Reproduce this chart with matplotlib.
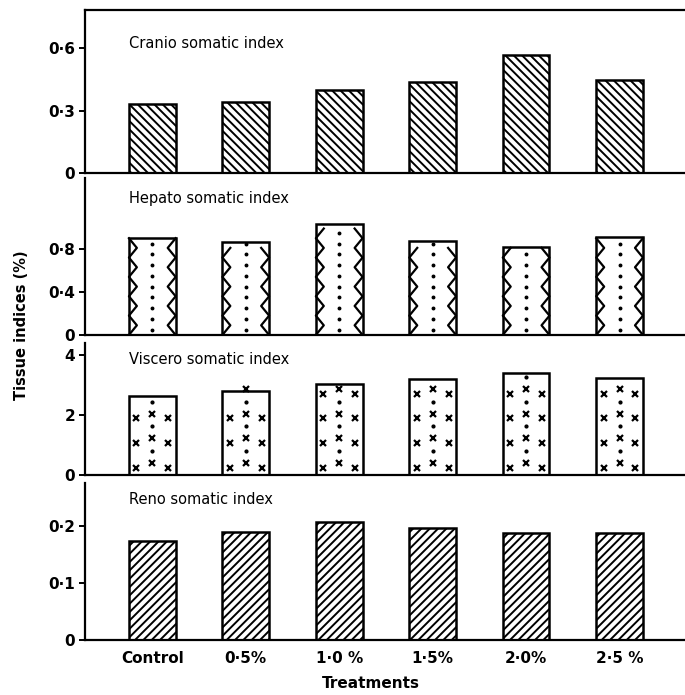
import numpy as np
import matplotlib
matplotlib.use('Agg')
import matplotlib.pyplot as plt

# Data
treatments = ['Control', '0·5%', '1·0 %', '1·5%', '2·0%', '2·5 %']
cranio = [0.33, 0.34, 0.40, 0.44, 0.57, 0.45]
hepato = [0.90, 0.865, 1.03, 0.875, 0.82, 0.915]
viscero = [2.62, 2.80, 3.03, 3.20, 3.40, 3.23]
reno = [0.174, 0.190, 0.207, 0.196, 0.188, 0.188]

titles = ['Cranio somatic index', 'Hepato somatic index',
          'Viscero somatic index', 'Reno somatic index']
yticks = [[0, 0.3, 0.6], [0, 0.4, 0.8], [0, 2, 4], [0, 0.1, 0.2]]
yticklabels = [['0', '0·3', '0·6'], ['0', '0·4', '0·8'], ['0', '2', '4'], ['0', '0·1', '0·2']]
ylims = [(0, 0.785), (0, 1.46), (0, 4.4), (0, 0.275)]

plt.rcParams['hatch.linewidth'] = 1.4
plt.rcParams['font.family'] = 'DejaVu Sans'

W, H = 685, 695
fig = plt.figure(figsize=(6.85, 6.95), dpi=100)

# panel extents in pixels (top, bottom)
panels = [(10, 173), (178, 335), (343, 475), (483, 640)]
title_y = [43, 198, 359, 499]
left_px = 85

x = np.arange(len(treatments))
bw = 0.5
xlim = (-0.72, 5.70)

axes = []
for i, (t, b) in enumerate(panels):
    ax = fig.add_axes([left_px / W, 1 - b / H, 1 - left_px / W, (b - t) / H])
    axes.append(ax)
    ax.set_xlim(*xlim)
    ax.set_ylim(*ylims[i])
    ax.spines['right'].set_visible(False)
    ax.spines['top'].set_visible(i == 0)
    for s in ['left', 'bottom', 'top']:
        ax.spines[s].set_linewidth(1.6)
    ax.set_yticks(yticks[i])
    ax.set_yticklabels(yticklabels[i], fontsize=11, fontweight='bold')
    ax.tick_params(axis='y', direction='out', length=4, width=1.4, pad=3)
    ax.set_xticks([])
    fig.text(129 / W, 1 - title_y[i] / H, titles[i], fontsize=10.5, va='center')

# Panel 1: backslash hatch
axes[0].bar(x, cranio, width=bw, color='white', edgecolor='black',
            linewidth=1.8, hatch='\\\\\\\\')

# Panel 2: wavy edges + dotted centre
ax = axes[1]
ax.bar(x, hepato, width=bw, color='white', edgecolor='black', linewidth=1.8)
period = 0.18
amp = 0.085
for xi, h in zip(x, hepato):
    n = int(np.ceil(h / (period / 2)))
    ys = np.linspace(0, n * period / 2, n + 1)
    ys = ys[ys <= h + 1e-9]
    off = np.where(np.arange(len(ys)) % 2 == 0, 0, amp)
    ax.plot(xi - bw / 2 + off, ys, color='black', lw=1.6)
    ax.plot(xi + bw / 2 - off, ys, color='black', lw=1.6)
    dots = np.arange(0.05, h, 0.1)
    ax.plot(np.full_like(dots, xi), dots, ls='none', marker='o', ms=1.8, color='black')

# Panel 3: x marks and dots
ax = axes[2]
ax.bar(x, viscero, width=bw, color='white', edgecolor='black', linewidth=1.8)
step = 0.82
for xi, h in zip(x, viscero):
    cx = np.arange(0.25, h, step) + 0.15
    ax.plot(np.full_like(cx, xi), cx, ls='none', marker='x', ms=4.5, mew=1.6, color='black')
    cd = cx + step / 2
    cd = cd[cd < h - 0.05]
    ax.plot(np.full_like(cd, xi), cd, ls='none', marker='o', ms=2, color='black')
    sx = np.arange(0.25, h - 0.2, step)
    ax.plot(np.full_like(sx, xi - 0.17), sx, ls='none', marker='x', ms=4.5, mew=1.6, color='black')
    ax.plot(np.full_like(sx, xi + 0.17), sx, ls='none', marker='x', ms=4.5, mew=1.6, color='black')

# Panel 4: forward hatch
axes[3].bar(x, reno, width=bw, color='white', edgecolor='black',
            linewidth=1.8, hatch='////')
axes[3].set_xticks(x)
axes[3].set_xticklabels(treatments, fontsize=11, fontweight='bold')
axes[3].tick_params(axis='x', length=0, pad=8)

fig.text(22 / W, 1 - 325 / H, 'Tissue indices (%)', rotation=90,
         ha='center', va='center', fontsize=10.5, fontweight='bold')
fig.text(371 / W, 1 - 683 / H, 'Treatments', ha='center', va='center',
         fontsize=11, fontweight='bold')

fig.savefig('out.png', dpi=100)
